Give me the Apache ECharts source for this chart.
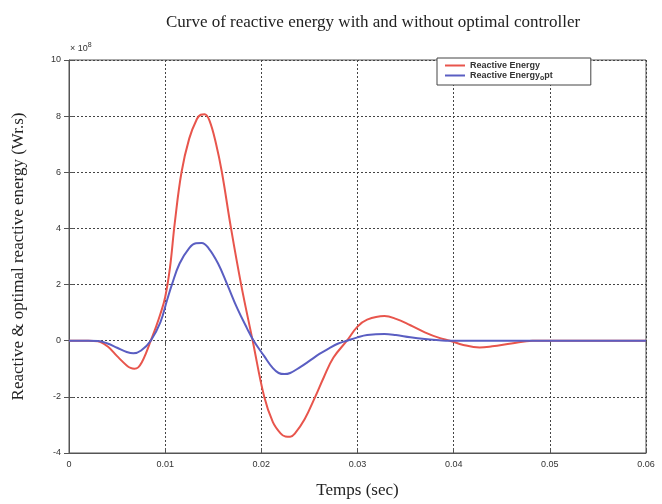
<!DOCTYPE html>
<html>
<head>
<meta charset="utf-8">
<script src="https://cdn.jsdelivr.net/npm/echarts@6/dist/echarts.min.js"></script>
<style>html,body{margin:0;padding:0;background:#fff}#c{width:662px;height:504px}</style>
</head>
<body>
<div id="c"></div>
<script>
// times in ms, values in units of 1e8 Wr.s
const reactiveTime = [0,1,2,3,4,5,6,6.4,6.8,7.2,7.6,8,8.5,9,9.5,10,10.5,11,11.7,12.5,13.3,13.7,14.1,14.6,15.3,15.9,16.85,17.9,19.1,20.3,21.2,22.0,22.5,23.0,23.5,24.5,25.6,26.5,27.5,28.9,30,31,32.8,34,35.5,37,38.5,39.6,41,42.7,44,46,48.2,50,55,60];
const reactiveValues = [0,0,0,-0.02,-0.2,-0.55,-0.88,-0.97,-1.0,-0.95,-0.75,-0.45,0,0.45,0.95,1.55,2.6,4.2,6.0,7.2,7.9,8.05,8.07,7.85,7.0,6.0,4.0,2.0,0,-2.0,-2.9,-3.3,-3.41,-3.42,-3.3,-2.8,-2.0,-1.3,-0.6,0,0.5,0.75,0.88,0.78,0.55,0.3,0.1,0,-0.15,-0.24,-0.2,-0.1,0,0,0,0];
const optTime = [0,2,3,4,5,6,6.7,7.5,8.5,9.5,10.2,10.7,11.5,12.5,13.2,13.8,14.5,15.5,16.46,17.5,18.5,19.2,20.3,21.2,21.8,22.4,23,24,25,26,27,28,28.9,30,31,32.8,34,35.5,37,38.5,39.5,45,50,55,60];
const optValues = [0,0,-0.01,-0.1,-0.25,-0.4,-0.45,-0.35,0,0.65,1.45,2.0,2.75,3.3,3.47,3.48,3.3,2.75,2.0,1.15,0.45,0,-0.55,-0.98,-1.15,-1.19,-1.15,-0.95,-0.72,-0.48,-0.28,-0.1,0,0.12,0.2,0.24,0.2,0.12,0.06,0.02,0,0,0,0,0];
const seriesNames = ['Reactive Energy','Reactive Energy_opt'];
const xTicks = [0,0.01,0.02,0.03,0.04,0.05,0.06];
const yTicks = [-4,-2,0,2,4,6,8,10];

const pairs = (ts, vals) => ts.map((t,i)=>[t/1000, vals[i]]);
const chart = echarts.init(document.getElementById('c'));
const tickFont = {fontFamily:'Liberation Sans', fontSize:9, color:'#333'};
const serif = 'Liberation Serif';
chart.setOption({
  animation:false,
  backgroundColor:'#fff',
  title:{text:'Curve of reactive energy with and without optimal controller', left:368, textAlign:'center', top:9,
    textStyle:{fontFamily:serif, fontSize:17, fontWeight:'normal', color:'#222'}},
  grid:{left:69, right:16, top:60, bottom:51, show:true, borderColor:'#555', borderWidth:1},
  legend:{
    data:seriesNames, left:437, top:58, orient:'vertical', itemGap:1,
    itemWidth:20, itemHeight:2, icon:'rect',
    borderColor:'#444', borderWidth:1, borderRadius:0, padding:[3,38,3,8], backgroundColor:'#fff',
    textStyle:{fontFamily:'Liberation Sans', fontSize:9, color:'#333', fontWeight:'bold',
      rich:{sub:{fontSize:7, fontFamily:'Liberation Sans', fontWeight:'bold', color:'#333', padding:[6,0,0,0]}}},
    formatter: n => n === 'Reactive Energy_opt' ? 'Reactive Energy{sub|o}pt' : n
  },
  graphic:[{type:'text', left:70, top:42, style:{text:'× 10{s|8}', rich:{s:{fontSize:7, padding:[0,0,6,0], fontFamily:'Liberation Sans', fill:'#333'}}, fontFamily:'Liberation Sans', fontSize:9, fill:'#333'}}],
  xAxis:[{
    type:'value', min:xTicks[0], max:xTicks[xTicks.length-1], interval:0.01,
    name:'Temps (sec)', nameLocation:'middle', nameGap:29,
    nameTextStyle:{fontFamily:serif, fontSize:17, color:'#222'},
    axisLine:{onZero:false, lineStyle:{color:'#555'}},
    axisTick:{inside:true, length:5, lineStyle:{color:'#555'}},
    axisLabel:{...tickFont, margin:7, formatter:v=>v===0?'0':v.toFixed(2)},
    splitLine:{show:true, lineStyle:{color:'#444', type:[2,2], width:1}}
  },{
    type:'value', position:'top', min:0, max:0.06, interval:0.01,
    axisLine:{show:false}, axisTick:{inside:true, length:5, lineStyle:{color:'#555'}},
    axisLabel:{show:false}, splitLine:{show:false}
  }],
  yAxis:[{
    type:'value', min:yTicks[0], max:yTicks[yTicks.length-1], interval:2,
    name:'Reactive & optimal reactive energy (Wr.s)', nameLocation:'middle', nameGap:42,
    nameTextStyle:{fontFamily:serif, fontSize:17, color:'#222'},
    axisLine:{show:true, onZero:false, lineStyle:{color:'#555'}},
    axisTick:{show:true, inside:true, length:5, lineStyle:{color:'#555'}},
    axisLabel:{...tickFont, margin:8},
    splitLine:{show:true, lineStyle:{color:'#444', type:[2,2], width:1}}
  },{
    type:'value', position:'right', min:-4, max:10, interval:2,
    axisLine:{show:false}, axisTick:{show:true, inside:true, length:5, lineStyle:{color:'#555'}},
    axisLabel:{show:false}, splitLine:{show:false}
  }],
  series:[
    {name:seriesNames[0], type:'line', data:pairs(reactiveTime, reactiveValues), smooth:0.4, showSymbol:false,
      lineStyle:{color:'#e8554c', width:2}, itemStyle:{color:'#e8554c'}, z:3},
    {name:seriesNames[1], type:'line', data:pairs(optTime, optValues), smooth:0.4, showSymbol:false,
      lineStyle:{color:'#5a5ec2', width:2}, itemStyle:{color:'#5a5ec2'}, z:4}
  ]
});
</script>
</body>
</html>
